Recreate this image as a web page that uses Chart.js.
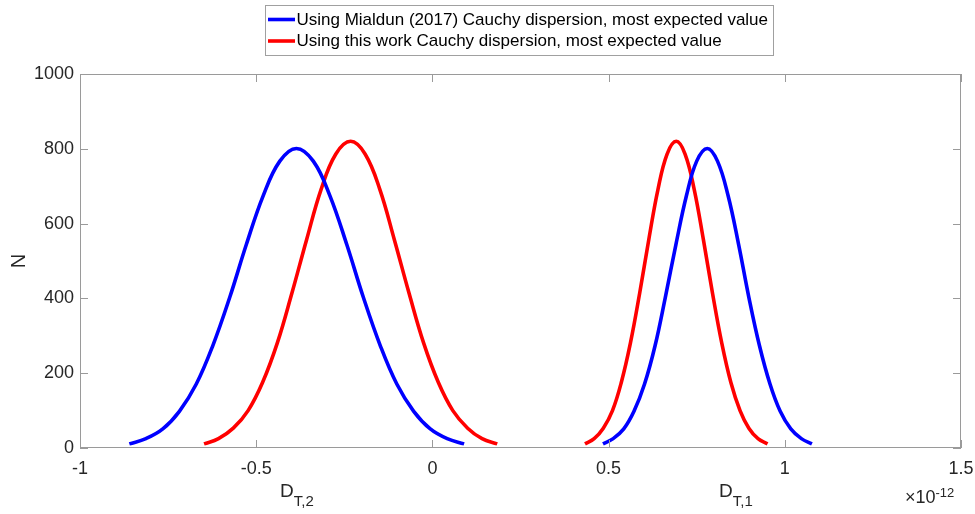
<!DOCTYPE html>
<html><head><meta charset="utf-8">
<script src="https://cdn.jsdelivr.net/npm/chart.js@4/dist/chart.umd.min.js"></script>
<style>html,body{margin:0;padding:0;background:#fff}#wrap{width:975px;height:514px;position:relative}canvas{display:block}</style>
</head><body><div id="wrap"><canvas id="c" width="975" height="514"></canvas></div>
<script>
// ---- data (x in units of 1e-12) ----
const seriesNames = [
  'Using Mialdun (2017) Cauchy dispersion, most expected value',
  'Using this work Cauchy dispersion, most expected value'
];
const xTicks = [-1, -0.5, 0, 0.5, 1, 1.5];
const yTicks = [0, 200, 400, 600, 800, 1000];

const blueLeftX = [-0.860,-0.813,-0.765,-0.718,-0.670,-0.623,-0.575,-0.528,-0.480,-0.433,-0.386,-0.338,-0.291,-0.243,-0.196,-0.148,-0.101,-0.053,-0.006,0.042,0.090];
const blueLeftY = [11,25,51,98,171,274,403,544,675,767,801,767,675,544,403,274,171,98,51,25,11];

const redLeftX = [-0.648,-0.607,-0.565,-0.523,-0.482,-0.440,-0.399,-0.357,-0.316,-0.274,-0.232,-0.191,-0.149,-0.108,-0.066,-0.025,0.017,0.058,0.100,0.141,0.184];
const redLeftY = [11,25,53,100,175,281,413,557,691,786,820,786,691,557,413,281,175,100,53,25,11];

const redRightX = [0.433,0.459,0.485,0.511,0.536,0.562,0.588,0.614,0.640,0.666,0.692,0.717,0.743,0.769,0.795,0.821,0.847,0.873,0.898,0.924,0.951];
const redRightY = [11,25,53,100,175,281,413,557,691,786,820,786,691,557,413,281,175,100,53,25,11];

const blueRightX = [0.484,0.513,0.543,0.572,0.602,0.632,0.661,0.691,0.721,0.750,0.780,0.809,0.839,0.869,0.898,0.928,0.958,0.987,1.017,1.047,1.077];
const blueRightY = [11,25,51,98,171,274,403,544,675,767,801,767,675,544,403,274,171,98,51,25,11];

const BLUE = '#0000ff', RED = '#ff0000';
const FONT = '"Liberation Sans", Arial, Helvetica, sans-serif';
const TXT = '#262626';
const AXC = '#9a9a9a';

function pts(xs, ys){ return xs.map((x,i)=>({x:x, y:ys[i]})); }
function ds(xs, ys, color){
  return { data: pts(xs,ys), borderColor: color, backgroundColor: color, borderWidth: 3.6,
           showLine: true, pointRadius: 0, pointHoverRadius: 0, fill: false,
           tension: 0.4 };
}

const decor = {
  id: 'decor',
  afterDraw(chart){
    const ctx = chart.ctx, a = chart.chartArea;
    const xs = chart.scales.x, ys = chart.scales.y;
    ctx.save();
    // axes box
    ctx.strokeStyle = AXC; ctx.lineWidth = 1;
    ctx.strokeRect(Math.round(a.left)+0.5, Math.round(a.top)+0.5, Math.round(a.right-a.left)-1, Math.round(a.bottom-a.top)-1);
    // inward ticks
    const TL = 8;
    ctx.beginPath();
    xTicks.forEach(v=>{
      const p = Math.round(xs.getPixelForValue(v))+0.5;
      ctx.moveTo(p, a.bottom); ctx.lineTo(p, a.bottom-TL);
      ctx.moveTo(p, a.top); ctx.lineTo(p, a.top+TL);
    });
    yTicks.forEach(v=>{
      const p = Math.round(ys.getPixelForValue(v))+0.5;
      ctx.moveTo(a.left, p); ctx.lineTo(a.left+TL, p);
      ctx.moveTo(a.right, p); ctx.lineTo(a.right-TL, p);
    });
    ctx.stroke();

    // y axis title
    ctx.fillStyle = TXT;
    ctx.save();
    ctx.translate(25, (a.top+a.bottom)/2);
    ctx.rotate(-Math.PI/2);
    ctx.font = '20px ' + FONT; ctx.textAlign = 'center'; ctx.textBaseline = 'alphabetic';
    ctx.fillText('N', 0, 0);
    ctx.restore();

    // x axis labels with subscripts
    function subLabel(x, base, sub){
      ctx.font = '19px ' + FONT; ctx.textAlign = 'left'; ctx.textBaseline = 'alphabetic';
      ctx.fillText(base, x, 497);
      const w = ctx.measureText(base).width;
      ctx.font = '15px ' + FONT;
      ctx.fillText(sub, x + w, 505.5);
    }
    subLabel(280, 'D', 'T,2');
    subLabel(719, 'D', 'T,1');

    // exponent label
    ctx.font = '18px ' + FONT; ctx.textAlign = 'left'; ctx.textBaseline = 'alphabetic';
    ctx.fillText('\u00d710', 905, 503);
    const w10 = ctx.measureText('\u00d710').width;
    ctx.font = '13px ' + FONT;
    ctx.fillText('-12', 905 + w10, 497);

    // legend
    const lx = 265.5, ly = 5.5, lw = 508, lh = 50;
    ctx.fillStyle = '#fff';
    ctx.fillRect(lx, ly, lw, lh);
    ctx.strokeStyle = '#a0a0a0'; ctx.lineWidth = 1;
    ctx.strokeRect(lx, ly, lw, lh);
    const rows = [[BLUE, seriesNames[0], 19.5],[RED, seriesNames[1], 41]];
    rows.forEach(r=>{
      ctx.strokeStyle = r[0]; ctx.lineWidth = 3.6;
      ctx.beginPath(); ctx.moveTo(268, r[2]); ctx.lineTo(295, r[2]); ctx.stroke();
      ctx.fillStyle = '#000';
      ctx.font = '17px ' + FONT; ctx.textAlign = 'left'; ctx.textBaseline = 'middle';
      ctx.fillText(r[1], 296.5, r[2]+0.5);
    });
    ctx.restore();
  }
};

new Chart(document.getElementById('c'), {
  type: 'scatter',
  data: { datasets: [
    ds(blueLeftX, blueLeftY, BLUE),
    ds(blueRightX, blueRightY, BLUE),
    ds(redLeftX, redLeftY, RED),
    ds(redRightX, redRightY, RED)
  ]},
  options: {
    responsive: false, animation: false, devicePixelRatio: 1,
    layout: { padding: { top: 74, right: 14, left: 0, bottom: 0 } },
    plugins: { legend: { display: false }, tooltip: { enabled: false } },
    scales: {
      x: {
        type: 'linear', min: -1, max: 1.5,
        afterBuildTicks: s => { s.ticks = xTicks.map(v=>({value:v})); },
        afterFit: s => { s.height = 66; s.paddingLeft = 0; s.paddingRight = 0; },
        grid: { display: false, drawTicks: false }, border: { display: false },
        ticks: { color: TXT, font: { family: FONT, size: 18 }, padding: 10, maxRotation: 0,
                 callback: v => String(v) }
      },
      y: {
        min: 0, max: 1000,
        afterBuildTicks: s => { s.ticks = yTicks.map(v=>({value:v})); },
        afterFit: s => { s.width = 80; s.paddingTop = 0; s.paddingBottom = 0; },
        grid: { display: false, drawTicks: false }, border: { display: false },
        ticks: { color: TXT, font: { family: FONT, size: 18 }, padding: 6,
                 callback: v => String(v) }
      }
    }
  },
  plugins: [decor]
});
</script>
</body></html>
